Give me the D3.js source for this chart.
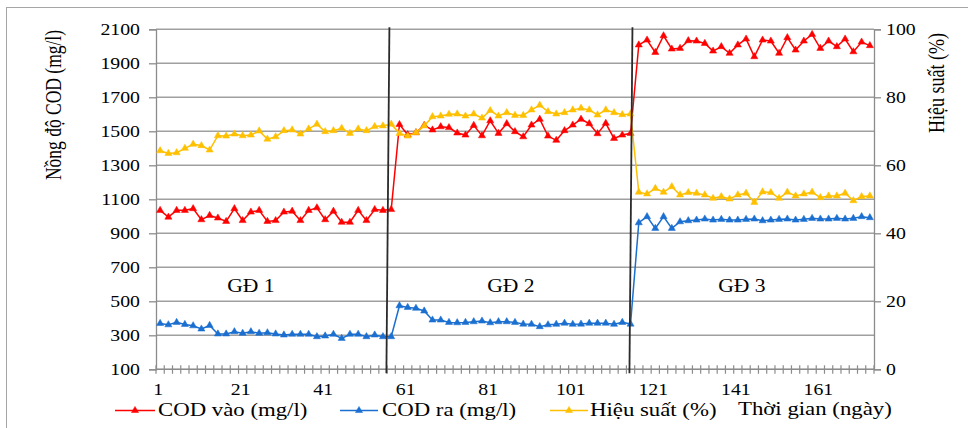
<!DOCTYPE html>
<html><head><meta charset="utf-8">
<script src="https://cdn.jsdelivr.net/npm/d3@7/dist/d3.min.js"></script>
<style>
html,body{margin:0;padding:0;background:#fff;}
svg{display:block;}
</style></head>
<body>
<svg id="chart" width="968" height="428"></svg>
<script>
// ---------- data ----------
const days = [1,3,5,7,9,11,13,15,17,19,21,23,25,27,29,31,33,35,37,39,41,43,45,47,49,51,53,55,57,
  59,61,63,65,67,69,71,73,75,77,79,81,83,85,87,89,91,93,95,97,99,101,103,105,107,109,111,113,115,
  117,119,121,123,125,127,129,131,133,135,137,139,141,143,145,147,149,151,153,155,157,159,161,163,165,167,169,171,173];

const codIn = [1035,995,1035,1035,1045,980,1005,990,970,1045,975,1025,1035,970,975,1025,1030,975,1035,1050,980,1030,965,965,1035,975,1040,1035,1040,
  1540,1480,1492,1535,1508,1527,1522,1490,1478,1535,1474,1562,1488,1545,1498,1468,1537,1571,1472,1447,1504,1537,1571,1545,1486,1547,1458,1478,1488,
  2008,2037,1964,2062,1984,1988,2033,2031,2017,1972,1998,1959,2008,2043,1939,2037,2031,1959,2051,1978,2031,2070,1988,2031,1998,2043,1968,2025,2004];

const codOut = [370,362,376,364,356,337,358,308,308,321,312,321,312,315,308,302,306,306,306,292,296,306,282,306,306,292,302,292,292,
  474,464,459,443,390,390,376,374,376,380,384,374,380,380,376,366,365,351,362,365,371,365,366,371,371,371,365,376,366,
  962,998,929,998,929,968,974,978,984,978,982,978,978,982,984,974,978,982,984,978,982,988,984,984,988,984,988,998,992];

const efficiency = [64.3,63.5,63.7,65.0,66.2,65.8,64.5,68.7,68.6,69.2,68.7,68.9,70.1,67.7,68.4,70.2,70.4,69.2,70.7,72.1,69.9,70.2,70.9,69.4,70.7,70.2,71.4,71.6,72.1,
  69.4,68.6,69.6,71.6,74.3,74.5,75.0,75.1,74.5,75.1,73.9,76.1,74.5,75.5,74.7,74.7,76.3,77.7,75.8,75.1,75.5,76.3,76.8,76.3,74.8,76.3,75.5,74.9,75.1,
  52.1,51.6,53.2,52.1,53.7,51.3,52.0,51.8,51.3,50.3,50.8,50.1,51.3,51.8,49.1,52.2,52.0,50.3,52.1,51.0,51.6,52.1,50.5,51.0,51.0,51.8,49.6,50.8,51.0];

const xTickLabels = [1,21,41,61,81,101,121,141,161];
const leftTicks = [100,300,500,700,900,1100,1300,1500,1700,1900,2100];
const rightTicks = [0,20,40,60,80,100];
const phaseNames = ["GĐ 1","GĐ 2","GĐ 3"];
const seriesNames = ["COD vào (mg/l)","COD ra (mg/l)","Hiệu suất (%)"];
const leftTitle = "Nồng độ COD (mg/l)";
const rightTitle = "Hiệu suất (%)";
const xTitle = "Thời gian (ngày)";

// ---------- layout (not data) ----------
const phaseLineDays = [56.2, 115.1];
const phaseLabelDays = [23, 86, 142];
const phaseLabelValue = 555;
const colors = ["#ff0000", "#1a6fd0", "#ffc000"];
const plot = {l:156, r:874, t:29.3, b:369.3};
const SX = 1.2;   // horizontal text stretch of the original picture
const SERIF = '"Liberation Serif", "Times New Roman", Times, "DejaVu Serif", serif';

const svg = d3.select("#chart");
svg.append("rect").attr("x",6.5).attr("y",7.5).attr("width",1000).attr("height",500)
  .attr("fill","none").attr("stroke","#a6a6a6").attr("stroke-width",1);

const x = d3.scaleBand().domain(days).range([plot.l, plot.r]).padding(0);
const bw = x.bandwidth();
const cx = d => x(d) + bw/2;
const xDay = d3.scaleLinear().domain([days[0], days[days.length-1]]).range([cx(days[0]), cx(days[days.length-1])]);
const yL = d3.scaleLinear().domain([100,2100]).range([plot.b, plot.t]);
const yR = d3.scaleLinear().domain([0,100]).range([plot.b, plot.t]);

function hText(g, str, tx, ty, size, anchor, sx) {
  return g.append("text").attr("transform", `translate(${tx},${ty}) scale(${sx||SX},1)`)
    .attr("text-anchor", anchor).attr("font-family", SERIF).style("font-family", SERIF)
    .attr("fill", "#000").style("font-size", size + "px").text(str);
}
function vText(g, str, tx, ty, size, s) {
  return g.append("text").attr("transform", `translate(${tx},${ty}) rotate(-90) scale(1,${s})`)
    .attr("text-anchor", "middle").attr("font-family", SERIF).style("font-family", SERIF)
    .attr("fill", "#000").style("font-size", size + "px").text(str);
}

// grid
const grid = svg.append("g");
grid.selectAll("line").data(leftTicks).join("line")
  .attr("x1", plot.l).attr("x2", plot.r).attr("y1", d => yL(d)).attr("y2", d => yL(d))
  .attr("stroke", "#a0a0a0").attr("stroke-width", 1.4);

// left axis
const gL = svg.append("g").attr("transform", `translate(${plot.l},0)`)
  .call(d3.axisLeft(yL).tickValues(leftTicks).tickSize(7).tickFormat(""));
gL.selectAll("path,line").attr("stroke", "#8c8c8c").attr("stroke-width", 1.3);
leftTicks.forEach(v => hText(svg, String(v), 140, yL(v) + 5.8, 16.5, "end"));

// right axis
const gR = svg.append("g").attr("transform", `translate(${plot.r},0)`)
  .call(d3.axisRight(yR).tickValues(rightTicks).tickSize(7).tickFormat(""));
gR.selectAll("path,line").attr("stroke", "#8c8c8c").attr("stroke-width", 1.3);
rightTicks.forEach(v => hText(svg, String(v), 886, yR(v) + 5.8, 16.5, "start"));

// bottom axis
const gB = svg.append("g");
gB.append("line").attr("x1", plot.l).attr("x2", plot.r).attr("y1", plot.b).attr("y2", plot.b)
  .attr("stroke", "#8c8c8c").attr("stroke-width", 1.3);
const bounds = days.map(d => x(d)).concat([plot.r]);
gB.selectAll("line.t").data(bounds).join("line").attr("class","t")
  .attr("x1", d => d).attr("x2", d => d).attr("y1", plot.b - 4).attr("y2", plot.b + 4.5)
  .attr("stroke", "#8c8c8c").attr("stroke-width", 1.2);
xTickLabels.forEach(d => hText(svg, String(d), cx(d) - 2, 395, 16.5, "middle"));

// titles
vText(svg, leftTitle, 61, 105, 17.5, 1.28);
vText(svg, rightTitle, 944, 83, 18, 1.25);

// phase labels
phaseNames.forEach((n, i) => hText(svg, n, xDay(phaseLabelDays[i]), yL(phaseLabelValue), 18, "middle"));

// series
const series = [
  {vals: codIn, y: yL, c: colors[0]},
  {vals: codOut, y: yL, c: colors[1]},
  {vals: efficiency, y: yR, c: colors[2]}
];
const tri = d3.symbol().type(d3.symbolTriangle).size(22);
series.forEach(s => {
  const pts = days.map((d, i) => [cx(d), s.y(s.vals[i])]);
  svg.append("path").attr("d", d3.line()(pts)).attr("fill", "none")
    .attr("stroke", s.c).attr("stroke-width", 1.5);
  svg.append("g").selectAll("path").data(pts).join("path")
    .attr("d", tri).attr("transform", p => `translate(${p[0]},${p[1]})`)
    .attr("fill", s.c).attr("stroke", s.c).attr("stroke-width", 0.5);
});

// phase boundary lines
phaseLineDays.forEach(d => {
  const xm = xDay(d);
  svg.append("line").attr("x1", xm + 1.5).attr("y1", plot.t - 2).attr("x2", xm - 1.5).attr("y2", plot.b + 4)
    .attr("stroke", "#2b2b2b").attr("stroke-width", 1.8);
});

// legend
const legendItems = [
  {x0: 115, x1: 155, tx: 158},
  {x0: 340, x1: 378, tx: 382},
  {x0: 550, x1: 588, tx: 590}
];
const lg = svg.append("g");
legendItems.forEach((it, i) => {
  const ly = 410.5;
  lg.append("line").attr("x1", it.x0).attr("x2", it.x1).attr("y1", ly).attr("y2", ly)
    .attr("stroke", colors[i]).attr("stroke-width", 1.5);
  lg.append("path").attr("d", tri).attr("transform", `translate(${(it.x0 + it.x1) / 2},${ly})`)
    .attr("fill", colors[i]).attr("stroke", colors[i]).attr("stroke-width", 0.5);
  hText(lg, seriesNames[i], it.tx, 416, 19, "start");
});
hText(svg, xTitle, 738, 415, 19, "start");
</script>
</body></html>
